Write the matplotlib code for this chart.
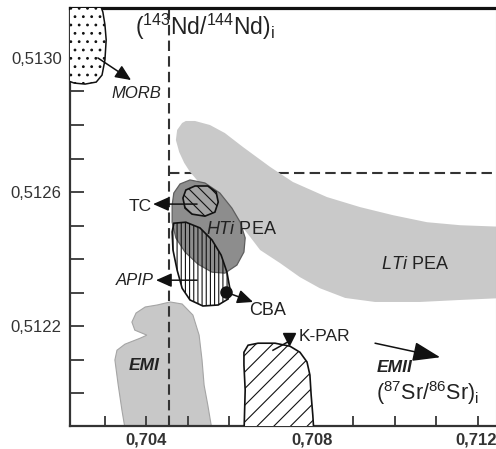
import matplotlib
matplotlib.use('Agg')
import matplotlib.pyplot as plt
from matplotlib.patches import Polygon
from matplotlib.transforms import ScaledTranslation

plt.rcParams['font.family'] = ['Liberation Sans', 'DejaVu Sans']
plt.rcParams['mathtext.fontset'] = 'custom'
plt.rcParams['mathtext.rm'] = 'Liberation Sans'
plt.rcParams['mathtext.it'] = 'Liberation Sans:italic'
plt.rcParams['mathtext.bf'] = 'Liberation Sans:bold'
plt.rcParams['hatch.linewidth'] = 0.8

# axis ticks
sr_ticks = [0.703, 0.704, 0.705, 0.706, 0.707, 0.708, 0.709, 0.710, 0.711, 0.712]
sr_labels = ['', '0,704', '', '', '', '0,708', '', '', '', '0,712']
nd_ticks = [0.5120, 0.5121, 0.5122, 0.5123, 0.5124, 0.5125, 0.5126, 0.5127,
            0.5128, 0.5129, 0.5130, 0.5131]
nd_labels = ['', '', '0,5122', '', '', '', '0,5126', '', '', '', '0,5130', '']

# reference lines (bulk earth)
sr_bulk = 0.70455
nd_bulk = 0.512657

# field outlines, (87Sr/86Sr)i vs (143Nd/144Nd)i
morb_sr = [0.70207, 0.70289, 0.70296, 0.70301, 0.70304, 0.70301, 0.70294, 0.70280,
           0.70253, 0.70227, 0.70207]
morb_nd = [0.513161, 0.513161, 0.513137, 0.513099, 0.513054, 0.512994, 0.512949,
           0.512928, 0.512922, 0.512925, 0.512934]

lti_sr = [0.70487, 0.70475, 0.70472, 0.70480, 0.70492, 0.70506, 0.70537, 0.70571,
          0.70619, 0.70651, 0.70675, 0.70723, 0.70771, 0.70819, 0.70880, 0.70952,
          0.71060, 0.71157, 0.71265, 0.71265, 0.71157, 0.71077, 0.70995, 0.70916,
          0.70836, 0.70754, 0.70699, 0.70634, 0.70590, 0.70554, 0.70518, 0.70496]
lti_nd = [0.512806, 0.512785, 0.512755, 0.512719, 0.512687, 0.512660, 0.512615,
          0.512576, 0.512516, 0.512466, 0.512427, 0.512388, 0.512346, 0.512313,
          0.512284, 0.512272, 0.512272, 0.512278, 0.512284, 0.512496, 0.512501,
          0.512510, 0.512531, 0.512555, 0.512585, 0.512630, 0.512675, 0.512734,
          0.512776, 0.512800, 0.512812, 0.512812]

hti_sr = [0.70506, 0.70482, 0.70467, 0.70463, 0.70463, 0.70472, 0.70494, 0.70525,
          0.70559, 0.70590, 0.70619, 0.70636, 0.70639, 0.70627, 0.70607, 0.70578,
          0.70542]
hti_nd = [0.512636, 0.512624, 0.512597, 0.512561, 0.512510, 0.512463, 0.512421,
          0.512385, 0.512361, 0.512358, 0.512382, 0.512421, 0.512463, 0.512510,
          0.512552, 0.512597, 0.512627]

tc_sr = [0.70496, 0.70518, 0.70549, 0.70569, 0.70574, 0.70566, 0.70542, 0.70511,
         0.70494, 0.70489]
tc_nd = [0.512606, 0.512618, 0.512618, 0.512600, 0.512570, 0.512540, 0.512528,
         0.512534, 0.512552, 0.512582]

cba_sr = [0.70467, 0.70496, 0.70530, 0.70559, 0.70581, 0.70595, 0.70602, 0.70598,
          0.70574, 0.70537, 0.70506, 0.70487, 0.70475, 0.70465, 0.70463]
cba_nd = [0.512507, 0.512510, 0.512493, 0.512457, 0.512412, 0.512361, 0.512313,
          0.512281, 0.512263, 0.512260, 0.512278, 0.512313, 0.512367, 0.512427,
          0.512481]

kpar_sr = [0.70636, 0.70646, 0.70670, 0.70711, 0.70747, 0.70771, 0.70788, 0.70795,
           0.70798, 0.70802, 0.70805, 0.70636, 0.70639, 0.70636]
kpar_nd = [0.512122, 0.512143, 0.512149, 0.512149, 0.512140, 0.512122, 0.512093,
           0.512054, 0.511994, 0.511934, 0.511875, 0.511875, 0.512009, 0.512084]

emi_sr = [0.70427, 0.70458, 0.70487, 0.70513, 0.70528, 0.70535, 0.70540, 0.70549,
          0.70561, 0.70352, 0.70342, 0.70333, 0.70325, 0.70330, 0.70349, 0.70386,
          0.70402, 0.70373, 0.70366, 0.70376, 0.70398]
emi_nd = [0.512263, 0.512272, 0.512266, 0.512233, 0.512173, 0.512099, 0.512024,
          0.511964, 0.511875, 0.511875, 0.511949, 0.512024, 0.512099, 0.512128,
          0.512146, 0.512164, 0.512173, 0.512188, 0.512212, 0.512239, 0.512257]

# arrows: (tail, tip)
morb_arrow = [(0.70284, 0.513000), (0.70364, 0.512934)]
tc_arrow = [(0.70523, 0.512564), (0.70417, 0.512564)]
apip_arrow = [(0.70523, 0.512337), (0.70424, 0.512337)]
cba_arrow = [(0.70593, 0.512301), (0.70658, 0.512272)]
emii_arrow = [(0.70952, 0.512149), (0.71109, 0.512107)]
kpar_arrow = [(0.70706, 0.512128), (0.70745, 0.512155)]

fig = plt.figure(figsize=(4.96, 4.49), dpi=100)
ax = fig.add_axes([70 / 496, 23 / 449, 426 / 496, 418 / 449])


def field(sr, nd, **kw):
    ax.add_patch(Polygon(list(zip(sr, nd)), closed=True, **kw))


def arrow(pts, hl=0.95, hw=0.42):
    ax.annotate('', xy=pts[1], xytext=pts[0], zorder=7,
                arrowprops=dict(arrowstyle='-|>,head_length=%s,head_width=%s' % (hl, hw),
                                mutation_scale=10, color='#111111', lw=1.1,
                                shrinkA=0, shrinkB=0))


field(emi_sr, emi_nd, facecolor='#c8c8c8', edgecolor='#a5a5a5', lw=0.8, zorder=1)
ax.axvline(sr_bulk, color='#333333', lw=1.5, ls=(0, (5, 2.5)), zorder=1.5)
ax.plot([sr_bulk, 0.7126], [nd_bulk, nd_bulk], color='#333333', lw=1.5,
        ls=(0, (5, 2.5)), zorder=1.5)
field(lti_sr, lti_nd, facecolor='#c9c9c9', edgecolor='none', zorder=2)
field(hti_sr, hti_nd, facecolor='#8d8d8d', edgecolor='#5e5e5e', lw=0.9, zorder=3)
field(tc_sr, tc_nd, facecolor='#a3a3a3', edgecolor='#111111', lw=1.2,
      hatch='\\\\\\', zorder=4)
field(cba_sr, cba_nd, facecolor='none', edgecolor='#111111', lw=1.2,
      hatch='||||', zorder=4)
field(kpar_sr, kpar_nd, facecolor='white', edgecolor='#111111', lw=1.2,
      hatch='//', zorder=4)
field(morb_sr, morb_nd, facecolor='white', edgecolor='#111111', lw=1.1,
      hatch='..', zorder=4)

arrow(morb_arrow)
arrow(tc_arrow)
arrow(apip_arrow)
arrow(cba_arrow)
arrow(emii_arrow, hl=1.7, hw=0.6)
ax.plot(cba_arrow[0][0], cba_arrow[0][1], 'o', color='#111111', ms=8, zorder=8)
ax.plot([p[0] for p in kpar_arrow], [p[1] for p in kpar_arrow], color='#111111',
        lw=1.1, zorder=7)
ax.plot(kpar_arrow[1][0], kpar_arrow[1][1] + 0.000006, 'v', color='#111111', ms=8,
        zorder=8)

tc = '#222222'
ax.text(0.70376, 0.512893, 'MORB', style='italic', fontsize=12, color=tc,
        ha='center', va='center', zorder=9)
ax.text(0.70414, 0.512558, 'TC', fontsize=12.5, color=tc, ha='right', va='center',
        zorder=9)
ax.text(0.70631, 0.512487, r'$\mathit{HTi}$ PEA', fontsize=13, color=tc,
        ha='center', va='center', zorder=9)
ax.text(0.71048, 0.512385, r'$\mathit{LTi}$ PEA', fontsize=13, color=tc,
        ha='center', va='center', zorder=9)
ax.text(0.70419, 0.512337, 'APIP', style='italic', fontsize=12, color=tc,
        ha='right', va='center', zorder=9)
ax.text(0.70694, 0.512248, 'CBA', fontsize=13, color=tc, ha='center', va='center',
        zorder=9)
ax.text(0.70831, 0.512170, 'K-PAR', fontsize=12.5, color=tc, ha='center',
        va='center', zorder=9)
ax.text(0.70395, 0.512081, 'EMI', style='italic', weight='bold', fontsize=12.5,
        color=tc, ha='center', va='center', zorder=9)
ax.text(0.70998, 0.512078, 'EMII', style='italic', weight='bold', fontsize=12.5,
        color=tc, ha='center', va='center', zorder=9)

ax.text(0.317, 0.955, r'$(^{143}\mathrm{Nd}/^{144}\mathrm{Nd})_{\mathrm{i}}$',
        transform=ax.transAxes, fontsize=16.5, color=tc, ha='center', va='center',
        zorder=9)
ax.text(0.840, 0.079, r'$(^{87}\mathrm{Sr}/^{86}\mathrm{Sr})_{\mathrm{i}}$',
        transform=ax.transAxes, fontsize=15.5, color=tc, ha='center', va='center',
        zorder=9)

ax.set_xlim(0.702168, 0.712435)
ax.set_ylim(0.511902, 0.513149)
ax.set_xticks(sr_ticks)
ax.set_xticklabels(sr_labels, fontsize=12, weight='bold', color='#333333')
ax.set_yticks(nd_ticks)
ax.set_yticklabels(nd_labels, fontsize=12, color='#333333')
ax.tick_params(axis='x', direction='in', length=7, width=1.4, color='#444444', pad=5)
ax.tick_params(axis='y', direction='in', length=10, width=1.4, color='#444444', pad=6)

# keep the last x label inside the figure
last = ax.xaxis.get_major_ticks()[-1].label1
last.set_horizontalalignment('right')
last.set_transform(last.get_transform() + ScaledTranslation(19 / 100, 0, fig.dpi_scale_trans))

ax.spines['top'].set_linewidth(2.3)
ax.spines['top'].set_color('#111111')
for s in ['left', 'bottom']:
    ax.spines[s].set_linewidth(1.6)
    ax.spines[s].set_color('#333333')
ax.spines['right'].set_linewidth(0.8)
ax.spines['right'].set_color('#bbbbbb')

fig.savefig('out.png', dpi=100)
